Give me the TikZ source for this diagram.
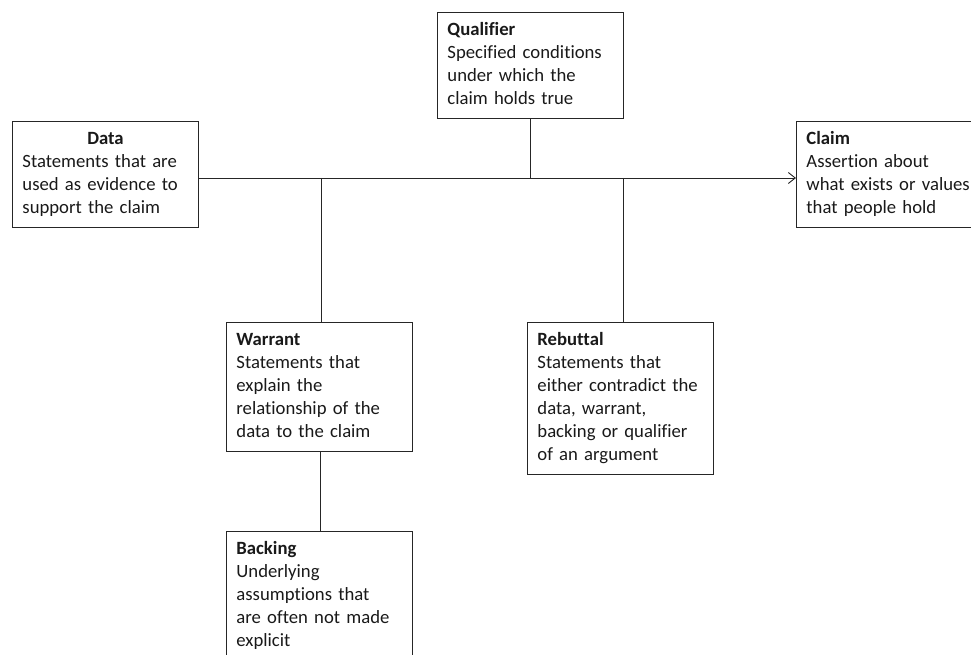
\documentclass[tikz,border=0pt]{standalone}
\usepackage{fontspec}
\setmainfont{Carlito}[Ligatures={NoCommon}]
\usetikzlibrary{arrows.meta}
\begin{document}
\begin{tikzpicture}[x=1pt,y=-1pt,
  box/.style={draw=black!85, line width=0.9pt, anchor=north west, align=left,
    inner xsep=10pt, inner ysep=6.9pt, text width=#1,
    font=\fontsize{18.7}{23}\selectfont, text=black!90},
  box/.default=166pt,
  link/.style={draw=black!85, line width=0.9pt}]
\useasboundingbox (0,0) rectangle (971,655);
\clip (0,0) rectangle (971,655);

\node[box] (qualifier) at (437,12)
  {\strut\textbf{Qualifier}\\Specified conditions\\under which the\\claim holds true\strut};
\node[box] (data) at (12,121)
  {\strut\makebox[166pt]{\textbf{Data}}\\Statements that are\\used as evidence to\\support the claim\strut};
\node[box=185pt] (claim) at (796,121)
  {\strut\textbf{Claim}\\Assertion about\\what exists or values\\that people hold\strut};
\node[box] (warrant) at (226,322)
  {\strut\textbf{Warrant}\\Statements that\\explain the\\relationship of the\\data to the claim\strut};
\node[box] (rebuttal) at (527,322)
  {\strut\textbf{Rebuttal}\\Statements that\\either contradict the\\data, warrant,\\backing or qualifier\\of an argument\strut};
\node[box] (backing) at (226,531)
  {\strut\textbf{Backing}\\Underlying\\assumptions that\\are often not made\\explicit\strut};

% main line from data to claim
\coordinate (spine) at (0,178);
\draw[link, -{Straight Barb[length=7pt,width=11pt]}] (data.east |- spine) -- (claim.west |- spine);
\draw[link] (qualifier.south) -- (qualifier.south |- spine);
\draw[link] ([xshift=1.5pt]warrant.north |- spine) -- ([xshift=1.5pt]warrant.north);
\draw[link] ([xshift=2.5pt]rebuttal.north |- spine) -- ([xshift=2.5pt]rebuttal.north);
\draw[link] ([xshift=1pt]warrant.south) -- ([xshift=1pt]backing.north);
\end{tikzpicture}
\end{document}
